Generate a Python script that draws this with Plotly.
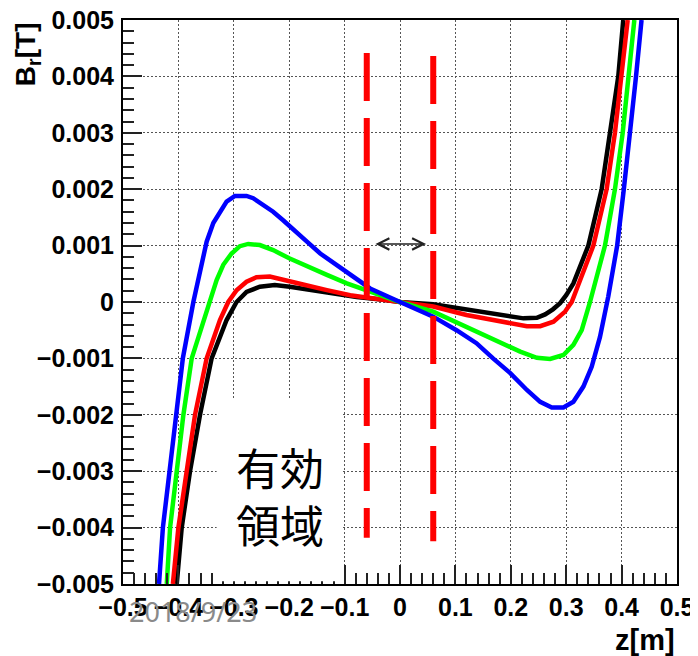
import plotly.graph_objects as go

# ---- data (z in m, B_r in T) ----
z_blue = [-0.435, -0.428, -0.416, -0.405, -0.392, -0.373, -0.361, -0.349, -0.337, -0.325, -0.313,
          -0.298, -0.277, -0.265, -0.247, -0.229, -0.211, -0.193, -0.168, -0.144, -0.114, -0.084,
          -0.054, 0.0, 0.06, 0.102, 0.138, 0.168, 0.199, 0.229, 0.253, 0.274, 0.295, 0.313, 0.331,
          0.346, 0.361, 0.376, 0.392, 0.404, 0.416, 0.426, 0.436]
b_blue = [-0.0050, -0.0040, -0.0030, -0.0020, -0.0010, 0.0000, 0.00057, 0.00107, 0.00140, 0.00160,
          0.00178, 0.00188, 0.00188, 0.00184, 0.00172, 0.00160, 0.00145, 0.00128, 0.00107, 0.00086,
          0.00066, 0.00045, 0.00024, 0.0, -0.00026, -0.00050, -0.00073, -0.00100, -0.00126, -0.00156,
          -0.00177, -0.00187, -0.00187, -0.00177, -0.00150, -0.00115, -0.00062, 0.00010, 0.0010,
          0.0020, 0.0030, 0.0040, 0.0050]

z_green = [-0.421, -0.415, -0.403, -0.391, -0.376, -0.343, -0.331, -0.319, -0.304, -0.289, -0.274,
           -0.253, -0.229, -0.199, -0.168, -0.132, -0.096, -0.060, 0.0, 0.06, 0.12, 0.181, 0.217,
           0.247, 0.271, 0.295, 0.313, 0.328, 0.343, 0.370, 0.388, 0.402, 0.412, 0.423]
b_green = [-0.0050, -0.0040, -0.0030, -0.0020, -0.0010, 0.0, 0.00039, 0.00066, 0.00086, 0.00099,
           0.00103, 0.00101, 0.00092, 0.00077, 0.00063, 0.00048, 0.00033, 0.00020, 0.0, -0.00017,
           -0.00044, -0.00073, -0.00088, -0.00099, -0.00101, -0.00094, -0.00076, -0.00050, 0.0,
           0.0010, 0.0020, 0.0030, 0.0040, 0.0050]

z_red = [-0.410, -0.400, -0.385, -0.370, -0.349, -0.325, -0.310, -0.295, -0.277, -0.259, -0.235,
         -0.211, -0.175, -0.132, -0.090, -0.054, 0.0, 0.06, 0.12, 0.181, 0.229, 0.253, 0.277, 0.298,
         0.310, 0.349, 0.373, 0.388, 0.400, 0.411]
b_red = [-0.0050, -0.0040, -0.0030, -0.0020, -0.0010, -0.00032, 0.0, 0.00021, 0.00036, 0.00044,
         0.00045, 0.00040, 0.00031, 0.00021, 0.00012, 0.00007, 0.0, -0.00008, -0.00023, -0.00035,
         -0.00043, -0.00043, -0.00035, -0.00017, 0.0, 0.0010, 0.0020, 0.0030, 0.0040, 0.0050]

z_black = [-0.403, -0.394, -0.379, -0.361, -0.340, -0.313, -0.295, -0.277, -0.253, -0.226, -0.199,
           -0.162, -0.120, -0.078, -0.030, 0.0, 0.06, 0.12, 0.181, 0.223, 0.247, 0.262, 0.276, 0.289,
           0.300, 0.313, 0.340, 0.364, 0.379, 0.394, 0.403]
b_black = [-0.0050, -0.0040, -0.0030, -0.0020, -0.0010, -0.00032, 0.0, 0.00018, 0.00027, 0.00030,
           0.00027, 0.00021, 0.00015, 0.00009, 0.00004, 0.0, -0.00004, -0.00013, -0.00023, -0.00029,
           -0.00028, -0.00022, -0.00013, -0.00002, 0.00012, 0.00033, 0.0010, 0.0020, 0.0030, 0.0040,
           0.0050]

series = [("black", z_black, b_black, "#000000"),
          ("red", z_red, b_red, "#ff0000"),
          ("green", z_green, b_green, "#00ff00"),
          ("blue", z_blue, b_blue, "#0000ff")]

# effective-region markers
band_z = [-0.06, 0.06]
band_top = [0.004415, 0.004362]
band_bottom = [-0.00418, -0.00424]
arrow_z = [-0.047, 0.047]
arrow_b = 0.00103

x_tickvals = [-0.5, -0.4, -0.3, -0.2, -0.1, 0.0, 0.1, 0.2, 0.3, 0.4, 0.5]
x_ticktext = ["−0.5", "−0.4", "−0.3", "−0.2", "−0.1", "0", "0.1", "0.2", "0.3", "0.4", "0.5"]
y_tickvals = [-0.005, -0.004, -0.003, -0.002, -0.001, 0.0, 0.001, 0.002, 0.003, 0.004, 0.005]
y_ticktext = ["−0.005", "−0.004", "−0.003", "−0.002", "−0.001", "0",
              "0.001", "0.002", "0.003", "0.004", "0.005"]

fig = go.Figure()
for name, zs, bs, col in series:
    fig.add_trace(go.Scatter(x=zs, y=bs, mode="lines", name=name,
                             line=dict(color=col, width=4.5, shape="linear"),
                             showlegend=False, hoverinfo="skip"))

for zb, t, b in zip(band_z, band_top, band_bottom):
    fig.add_trace(go.Scatter(x=[zb, zb], y=[t, b], mode="lines",
                             line=dict(color="#ff0000", width=6, dash="48px,17px"),
                             showlegend=False, hoverinfo="skip"))

# white text box area
fig.add_shape(type="rect", xref="x", yref="y", x0=-0.331, x1=-0.104, y0=-0.00495, y1=-0.00173,
              fillcolor="white", line=dict(width=0), layer="above")

axis_font = dict(family="Liberation Sans, Arial, sans-serif", size=25, color="black", weight="bold")

fig.update_layout(
    width=698, height=656,
    margin=dict(l=115, r=29, t=12, b=80),
    paper_bgcolor="white", plot_bgcolor="white",
    xaxis=dict(range=[-0.5, 0.5], tickvals=x_tickvals, ticktext=x_ticktext, automargin=False,
               tickfont=axis_font, ticks="inside", ticklen=19, tickwidth=1.5, tickcolor="#222",
               minor=dict(dtick=0.02, ticks="inside", ticklen=11, tickwidth=1.5, tickcolor="#222",
                          showgrid=False),
               showgrid=True, gridcolor="#555", gridwidth=1, griddash="2px,2px",
               showline=True, linecolor="black", linewidth=2, mirror=True,
               zeroline=False, ticklabelstandoff=0, ticklabeloverflow="allow"),
    yaxis=dict(range=[-0.005, 0.005], tickvals=y_tickvals, ticktext=y_ticktext, automargin=False,
               tickfont=axis_font, ticks="inside", ticklen=19, tickwidth=1.5, tickcolor="#222",
               minor=dict(dtick=0.0002, ticks="inside", ticklen=11, tickwidth=1.5, tickcolor="#222",
                          showgrid=False),
               showgrid=True, gridcolor="#555", gridwidth=1, griddash="2px,2px",
               showline=True, linecolor="black", linewidth=2, mirror=True,
               zeroline=False, ticklabelstandoff=2, ticklabeloverflow="allow"),
)

fig.add_annotation(x=arrow_z[1], y=arrow_b, ax=arrow_z[0], ay=arrow_b, xref="x", yref="y",
                   axref="x", ayref="y", text="", showarrow=True, arrowside="end+start",
                   arrowhead=5, startarrowhead=5, arrowsize=1.5, startarrowsize=1.5,
                   arrowwidth=1.5, arrowcolor="#222")

fig.add_annotation(x=0.2834, y=0.1578, xref="paper", yref="paper", text="有効<br>領域",
                   showarrow=False, xanchor="center", yanchor="middle",
                   font=dict(family="Noto Sans CJK JP", size=44, color="black"))

fig.add_annotation(x=1.0, y=-0.099, xref="paper", yref="paper", text="<b>z[m]</b>",
                   showarrow=False, xanchor="right", yanchor="middle",
                   font=dict(family="Liberation Sans, Arial, sans-serif", size=29, color="black"))

fig.add_annotation(x=-0.173, y=1.0, xref="paper", yref="paper", text="<b>B<sub>r</sub>[T]</b>",
                   showarrow=False, xanchor="center", yanchor="top", textangle=-90,
                   font=dict(family="Liberation Sans, Arial, sans-serif", size=28, color="black"))

fig.add_annotation(x=0.127, y=-0.048, xref="paper", yref="paper", text="2018/9/23",
                   showarrow=False, xanchor="center", yanchor="middle",
                   font=dict(family="Noto Sans, sans-serif", size=27, color="#8a8a8a"))

fig.write_html("out.html")
